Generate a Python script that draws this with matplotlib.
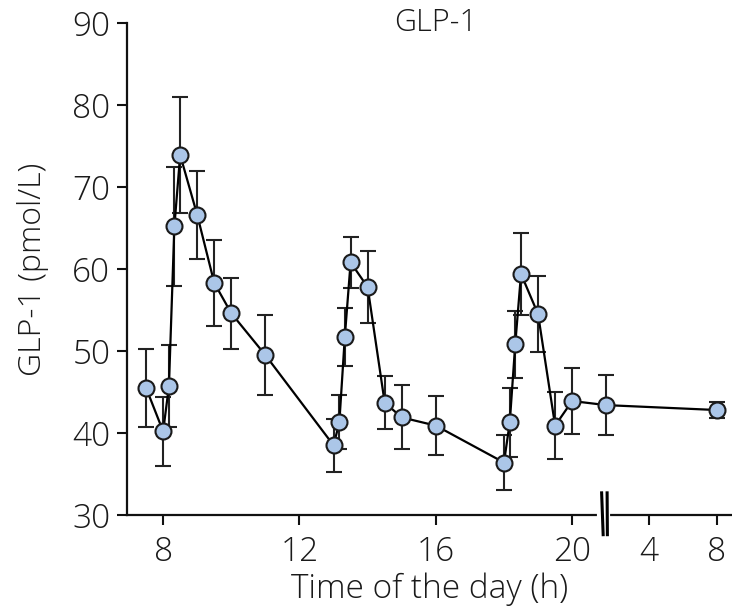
import numpy as np
import matplotlib
matplotlib.use("Agg")
import matplotlib.pyplot as plt
from matplotlib.lines import Line2D

# ---- data (time in hours; next-day times given as 24 + h) ----
times = [7.5, 8.0, 8.17, 8.33, 8.5, 9.0, 9.5, 10.0, 11.0,
         13.0, 13.17, 13.33, 13.5, 14.0, 14.5, 15.0, 16.0,
         18.0, 18.17, 18.33, 18.5, 19.0, 19.5, 20.0, 21.0, 32.0]
glp1 = [45.5, 40.2, 45.7, 65.2, 73.9, 66.6, 58.3, 54.6, 49.5,
        38.5, 41.3, 51.7, 60.8, 57.8, 43.7, 41.9, 40.9,
        36.4, 41.3, 50.8, 59.4, 54.5, 40.9, 43.9, 43.4, 42.8]
sem = [4.8, 4.2, 5.0, 7.3, 7.1, 5.4, 5.2, 4.3, 4.9,
       3.2, 3.3, 3.5, 3.1, 4.4, 3.2, 3.9, 3.6,
       3.4, 4.2, 4.1, 5.0, 4.6, 4.1, 4.0, 3.7, 1.0]
tick_times = [8, 12, 16, 20, 28, 32]
tick_labels = ["8", "12", "16", "20", "4", "8"]
yticks = [30, 40, 50, 60, 70, 80, 90]

# ---- broken time axis: linear until 21 h, compressed gap, half scale next day ----
def fwd(t):
    t = np.asarray(t, dtype=float)
    return np.where(t <= 21, t,
           np.where(t <= 28, 21 + (t - 21) * (1.25 / 7), 22.25 + (t - 28) / 2.0))

def inv(p):
    p = np.asarray(p, dtype=float)
    return np.where(p <= 21, p,
           np.where(p <= 22.25, 21 + (p - 21) * (7 / 1.25), 28 + (p - 22.25) * 2.0))

plt.rcParams['font.family'] = ['Open Sans', 'DejaVu Sans']
plt.rcParams['font.weight'] = 'light'
plt.rcParams['axes.labelweight'] = 'light'

TXT = '#1a1a1a'
fig = plt.figure(figsize=(7.32, 6.15), dpi=100)
ax = fig.add_axes([0.1735, 0.1626, 0.8265, 0.8000])
ax.set_xscale('function', functions=(fwd, inv))

ax.errorbar(times, glp1, yerr=sem, fmt='none', ecolor='#222222',
            elinewidth=1.5, capsize=6, capthick=1.5, zorder=2)
ax.plot(times, glp1, '-', color='black', lw=1.6, zorder=3)
ax.plot(times, glp1, 'o', ms=11.5, mfc='#abc6e8', mec='#1a1a1a', mew=1.5, zorder=4)

ax.set_ylim(30, 90)
ax.set_xlim(6.94, 32.88)
ax.set_yticks(yticks)
ax.set_xticks(tick_times)
ax.set_xticklabels(tick_labels)

for s in ['top', 'right']:
    ax.spines[s].set_visible(False)
for s in ['left', 'bottom']:
    ax.spines[s].set_linewidth(1.6)
    ax.spines[s].set_color('#111111')
ax.tick_params(axis='both', direction='out', length=7, width=1.5,
               labelsize=24, colors='#111111', labelcolor=TXT)
ax.tick_params(axis='y', pad=5)
ax.tick_params(axis='x', pad=8)

ax.set_xlabel("Time of the day (h)", fontsize=24, color=TXT, labelpad=2,
              fontweight='light')
ax.set_ylabel("GLP-1 (pmol/L)", fontsize=23, color=TXT, labelpad=17,
              fontweight='light')
ax.text(16, 90, "GLP-1", ha='center', va='center', fontsize=22, color=TXT,
        fontweight='light')

# axis break marks
trans = ax.get_xaxis_transform()
xb = 21.0
ax.add_line(Line2D([xb - 0.2, xb + 0.25], [0, 0], transform=trans, color='white',
                   lw=3, clip_on=False, zorder=5))
for dx in (-0.12, 0.16):
    ax.add_line(Line2D([xb + dx - 0.015, xb + dx + 0.03], [0.045, -0.04], transform=trans,
                       color='black', lw=2.2, clip_on=False, zorder=6))

fig.savefig("out.png", dpi=100)
